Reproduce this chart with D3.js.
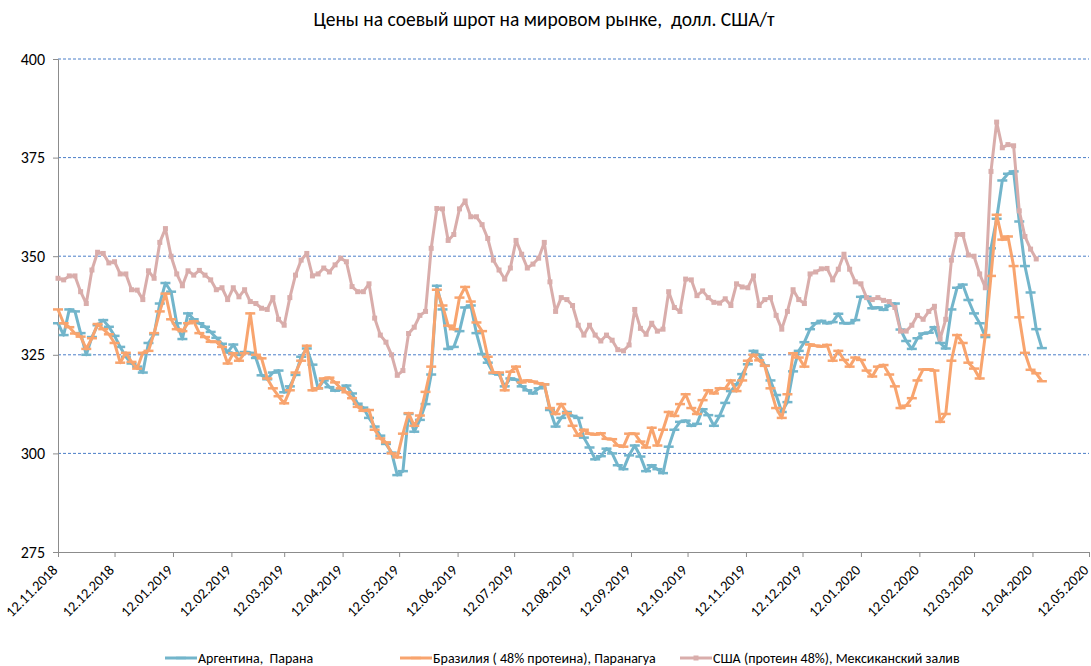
<!DOCTYPE html>
<html>
<head>
<meta charset="utf-8">
<script src="https://cdn.jsdelivr.net/npm/d3@7"></script>
<style>
  body { margin: 0; background: #fff; }
  svg { display: block; }
  text { font-family: Carlito, "Liberation Sans Narrow", "Open Sans", sans-serif; fill: #000; white-space: pre; }
</style>
</head>
<body>
<svg id="chart" width="1091" height="666"></svg>
<script>
// observations every 3 days starting 12.11.2018
const startDate = "2018-11-12";
const stepDays = 3;

const argentina = [
  333, 330, 336.5, 336, 330.5, 325, 329.5, 332.5, 333.8, 332.1,
  329.8, 327, 324.5, 322.8, 322, 320.5, 328, 330.2, 338, 343.2,
  341, 333, 329, 335.5, 334, 333, 332.1, 330.8, 329.3, 327.8,
  325.6, 327.6, 325, 325.7, 325.5, 324.2, 319.8, 318.8, 320.5, 321,
  315.5, 317, 319.9, 324.5, 326.6, 322.5, 316.5, 318.5, 316.8, 315.9,
  316.2, 317.2, 315.2, 312.6, 311.6, 309, 306.8, 304.5, 302.4, 300.2,
  294.5, 295.5, 310, 305.5, 308.5, 312.5, 320, 342.5, 336.5, 326.5,
  327, 331, 337, 337.5, 330.5, 325.2, 323, 320.3, 320, 317,
  319, 318.7, 317, 316, 315.2, 316.5, 317.5, 311, 306.8, 309,
  310.5, 309.5, 309, 304, 301.5, 298.5, 299.3, 301.2, 300, 297,
  296, 299.5, 302, 299.2, 295.5, 297, 296, 295, 301.7, 306,
  308, 308.3, 307, 307.5, 311.2, 309.7, 307, 309.5, 312.8, 315.8,
  317.5, 320.1, 322.6, 326, 325, 322.3, 318.5, 314.8, 310.5, 313,
  320.8, 326, 328.2, 331.5, 333, 333.6, 333, 333.3, 335.4, 333,
  333, 333.8, 339.7, 339.7, 336.8, 337, 336.4, 337.5, 338, 331.4,
  328.5, 326.5, 329.2, 330.4, 330.6, 332, 328, 326.6, 336.5, 342,
  342.8, 338.9, 335.5, 333, 329.5, 352, 359.5, 369.2, 370.9, 371.5,
  358.8, 347.5, 340.8, 331.5, 326.7
];

const brazil = [
  336.5, 333, 332, 330.4, 329.6, 326.5, 329.2, 332.8, 331.5, 330.2,
  328, 323, 325.5, 323.2, 321.5, 325.5, 326, 330.5, 336, 340.5,
  334, 331.5, 331, 333, 333.5, 330.5, 329.5, 328.3, 328.3, 327,
  322.8, 325.4, 323.5, 325.4, 335.5, 325, 324.1, 319, 316.5, 314.5,
  312.7, 316, 320.5, 323.5, 327.3, 316, 316.5, 319, 319.2, 318,
  316.5, 315.5, 314, 311.8, 310.8, 311, 306, 303.8, 302.8, 300,
  299, 305, 310.2, 307, 309.6, 315.6, 322, 341.5, 337.5, 332.4,
  331.5, 339.5, 342.2, 338.5, 333.2, 331, 324.5, 320.5, 320.5, 316,
  320.7, 322, 318, 318.5, 318.2, 317.8, 317.5, 311.5, 310, 312.5,
  310.2, 307, 304.5, 306, 305, 304.8, 305.1, 303.7, 303.6, 302,
  301.7, 305, 305, 303, 301.5, 306.5, 302, 306, 310.5, 309.5,
  312.5, 315, 311.5, 310, 313.5, 316, 315.2, 316.5, 316.4, 318.5,
  315.8, 318.5, 323.5, 325, 323.6, 322.2, 316.5, 311.5, 309, 315,
  325.4, 324.3, 322, 327.6, 327.3, 327.1, 327.5, 323.5, 326, 323.7,
  322, 324.3, 323.7, 321, 319.5, 322, 322.4, 320, 317, 311.5,
  312.1, 314, 318.5, 321.3, 321.3, 321, 308, 310, 323.5, 330,
  328, 323, 321.5, 319, 330, 345, 360.5, 354.2, 355, 347.5,
  334.5, 325.5, 321.2, 320.3, 318.3
];

const usa = [
  344.4, 344, 345, 345, 341, 338, 346.5, 351, 350.7, 348.3,
  348.6, 345.5, 345.5, 341.5, 341.4, 339, 346.3, 344.4, 353.5, 357,
  350, 345.5, 342.5, 346.3, 345.2, 346.4, 345.2, 344, 341.5, 342,
  339, 342, 339.7, 341.5, 338.5, 338, 336.8, 336.5, 339.5, 334,
  332.5, 339.5, 345.2, 349, 350.7, 345, 345.5, 347, 346, 347.8,
  349.5, 348.6, 342.3, 341, 341, 343, 334.3, 330, 328.2, 325,
  319.8, 321, 330.4, 332, 335, 336, 352, 362.1, 362, 354,
  355.5, 362, 364, 360, 360, 358, 354.5, 349, 346.5, 344.2,
  347, 354, 350.5, 347, 348, 349.5, 353.5, 343.5, 336, 339.5,
  339, 337.5, 332.5, 330, 332.5, 330, 328.5, 330, 328.7, 326.3,
  326, 327.5, 336.5, 331.7, 330.2, 333, 331, 331.5, 341, 337,
  336, 344.2, 344, 340, 341.2, 339.5, 338.3, 338.1, 339.2, 337.5,
  343, 342.2, 342, 345, 337.5, 339, 339.5, 335, 331.5, 336,
  341.5, 339, 338, 345.5, 346, 346.8, 346.9, 344, 346.7, 350.5,
  346.7, 343.5, 343, 339.5, 339, 339.5, 338.8, 338.5, 337, 331,
  331, 332.5, 335, 334, 336, 337.3, 329, 334, 349, 355.5,
  355.5, 350.3, 350, 345.5, 342, 371.5, 384, 377.5, 378.3, 378,
  361.5, 355, 351.8, 349.3, null
];

const seriesNames = [
  "Аргентина,  Парана",
  "Бразилия ( 48% протеина), Паранагуа",
  "США (протеин 48%), Мексиканский залив"
];
const seriesColors = ["#72b5cb", "#f8a46e", "#d9adab"];

const yTicks = [275, 300, 325, 350, 375, 400];
const xTickLabels = [
  "12.11.2018", "12.12.2018", "12.01.2019", "12.02.2019", "12.03.2019",
  "12.04.2019", "12.05.2019", "12.06.2019", "12.07.2019", "12.08.2019",
  "12.09.2019", "12.10.2019", "12.11.2019", "12.12.2019", "12.01.2020",
  "12.02.2020", "12.03.2020", "12.04.2020", "12.05.2020"
];

const title = "Цены на соевый шрот на мировом рынке,  долл. США/т";

const parseDate = d3.timeParse("%d.%m.%Y");
const tickDates = xTickLabels.map(parseDate);
const t0 = d3.timeParse("%Y-%m-%d")(startDate);
const dateAt = i => d3.timeDay.offset(t0, i * stepDays);

const svg = d3.select("#chart");

const x = d3.scaleTime()
  .domain([tickDates[0], tickDates[tickDates.length - 1]])
  .range([58, 1089]);
const y = d3.scaleLinear().domain([275, 400]).range([552, 59]);

// title
svg.append("text")
  .attr("x", 544).attr("y", 26)
  .attr("text-anchor", "middle")
  .attr("font-size", 19.5)
  .text(title);

// gridlines
svg.append("g")
  .selectAll("line")
  .data(yTicks.filter(d => d > 275))
  .join("line")
  .attr("x1", 58).attr("x2", 1089)
  .attr("y1", d => y(d)).attr("y2", d => y(d))
  .attr("stroke", "#4a7ec8")
  .attr("stroke-width", 1)
  .attr("stroke-dasharray", "3,2");

// y axis
const yAxis = svg.append("g")
  .attr("transform", "translate(58,0)")
  .call(d3.axisLeft(y).tickValues(yTicks).tickSize(5).tickPadding(8));
yAxis.select(".domain").attr("stroke", "#8c8c8c");
yAxis.selectAll(".tick line").attr("stroke", "#8c8c8c");
yAxis.selectAll("text").attr("font-size", 16).attr("font-family", null);

// x axis
const xAxis = svg.append("g")
  .attr("transform", "translate(0,552)")
  .call(d3.axisBottom(x).tickValues(tickDates).tickSize(5)
    .tickFormat(d3.timeFormat("%d.%m.%Y")));
xAxis.select(".domain").attr("stroke", "#8c8c8c");
xAxis.selectAll(".tick line").attr("stroke", "#8c8c8c");
xAxis.selectAll("text")
  .attr("font-size", 14.5).attr("font-family", null)
  .attr("text-anchor", "end")
  .attr("dy", null)
  .attr("x", 0).attr("y", 0)
  .attr("transform", "translate(0,19) rotate(-45)");

// series
const series = [argentina, brazil, usa].map((vals, k) => ({
  name: seriesNames[k],
  color: seriesColors[k],
  marker: k === 2 ? "square" : "dash",
  points: vals.map((v, i) => ({ date: dateAt(i), value: v })).filter(p => p.value != null)
}));

const line = d3.line()
  .x(d => x(d.date))
  .y(d => y(d.value));

function drawMarkers(g, pts, s) {
  if (s.marker === "dash") {
    g.selectAll("line.mk").data(pts).join("line")
      .attr("class", "mk")
      .attr("x1", d => x(d.date) - 5).attr("x2", d => x(d.date) + 5)
      .attr("y1", d => y(d.value)).attr("y2", d => y(d.value))
      .attr("stroke", s.color).attr("stroke-width", 2.5);
  } else {
    g.selectAll("rect.mk").data(pts).join("rect")
      .attr("class", "mk")
      .attr("x", d => x(d.date) - 2.5).attr("y", d => y(d.value) - 2.5)
      .attr("width", 5).attr("height", 5)
      .attr("fill", s.color);
  }
}

series.forEach(s => {
  const g = svg.append("g");
  g.append("path")
    .datum(s.points)
    .attr("d", line)
    .attr("fill", "none")
    .attr("stroke", s.color)
    .attr("stroke-width", 3)
    .attr("stroke-linejoin", "round");
  drawMarkers(g, s.points, s);
});

// legend
const legendX = [165, 400, 680];
const legend = svg.append("g");
series.forEach((s, k) => {
  const g = legend.append("g").attr("transform", `translate(${legendX[k]},658)`);
  g.append("line")
    .attr("x1", 0).attr("x2", 32).attr("y1", 0).attr("y2", 0)
    .attr("stroke", s.color).attr("stroke-width", 3);
  if (s.marker === "square") {
    g.append("rect").attr("x", 13.5).attr("y", -2.5).attr("width", 5).attr("height", 5).attr("fill", s.color);
  } else {
    g.append("line").attr("x1", 11).attr("x2", 21).attr("y1", 0).attr("y2", 0)
      .attr("stroke", s.color).attr("stroke-width", 2.5);
  }
  g.append("text")
    .attr("x", 33).attr("y", 5)
    .attr("font-size", 14)
    .text(s.name);
});
</script>
</body>
</html>
